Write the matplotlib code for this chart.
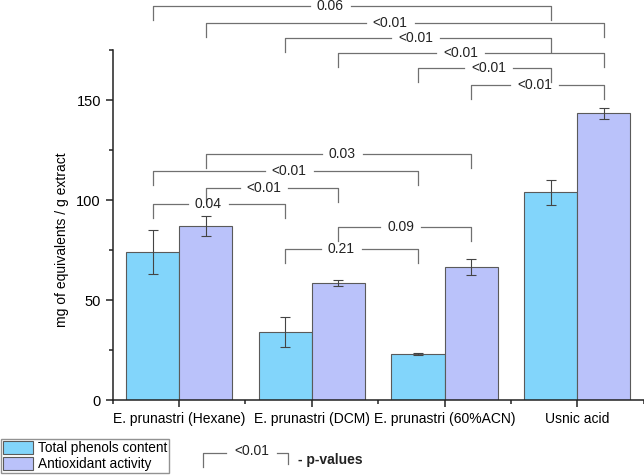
import numpy as np
import matplotlib
matplotlib.use('Agg')
import matplotlib.pyplot as plt
from matplotlib.patches import Patch
from matplotlib.lines import Line2D

plt.rcParams['font.family'] = ['Liberation Sans', 'DejaVu Sans']

categories = ['E. prunastri (Hexane)', 'E. prunastri (DCM)', 'E. prunastri (60%ACN)', 'Usnic acid']
phenols = [74.0, 33.8, 23.0, 103.8]
phenols_err = [11.0, 7.5, 0.5, 6.3]
antiox = [87.0, 58.7, 66.5, 143.3]
antiox_err = [5.0, 1.5, 4.2, 2.8]
series_names = ['Total phenols content', 'Antioxidant activity']

# p-value brackets: (group a, series a, group b, series b, height, label, label shift)
# series 0 = phenols, 1 = antioxidant
brackets = [
    (0, 0, 3, 0, 197.0, '0.06', -0.16),
    (0, 1, 3, 1, 188.7, '<0.01', -0.11),
    (1, 0, 3, 0, 180.8, '<0.01', -0.02),
    (1, 1, 3, 1, 173.7, '<0.01', -0.08),
    (2, 0, 3, 0, 165.8, '<0.01', 0.03),
    (2, 1, 3, 1, 157.5, '<0.01', -0.02),
    (0, 1, 2, 1, 123.0, '0.03', 0.03),
    (0, 0, 2, 0, 114.7, '<0.01', 0.03),
    (0, 1, 1, 1, 105.8, '<0.01', -0.06),
    (0, 0, 1, 0, 98.0, '0.04', -0.08),
    (1, 1, 2, 1, 86.3, '0.09', -0.03),
    (1, 0, 2, 0, 75.3, '0.21', -0.08),
]

c_phen = '#82d5fb'
c_anti = '#bac2fa'
edge = '#5a5a5a'
bcol = '#707070'

fig = plt.figure(figsize=(6.44, 4.76), dpi=100)
ax = fig.add_axes([112.7/644, 76/476, (644-113)/644, 350/476])

x = np.arange(len(categories))
w = 0.4
ax.bar(x - w/2, phenols, w, color=c_phen, edgecolor=edge, linewidth=0.8, zorder=2)
ax.bar(x + w/2, antiox, w, color=c_anti, edgecolor=edge, linewidth=0.8, zorder=2)
ax.errorbar(x - w/2, phenols, yerr=phenols_err, fmt='none', ecolor='#444444',
            elinewidth=0.8, capsize=3.5, capthick=0.8, zorder=3)
ax.errorbar(x + w/2, antiox, yerr=antiox_err, fmt='none', ecolor='#444444',
            elinewidth=0.8, capsize=3.5, capthick=0.8, zorder=3)

ax.set_xlim(-0.5, 3.5)
ax.set_ylim(0, 175)
ax.set_xticks(x)
ax.set_xticklabels(categories, fontsize=10)
ax.set_xticks([-0.5, 0.5, 1.5, 2.5, 3.5], minor=True)
ax.set_yticks([0, 50, 100, 150])
ax.set_yticks([25, 75, 125, 175], minor=True)
ax.tick_params(axis='y', labelsize=10.5)
ax.tick_params(which='major', length=5, width=1.1, color='#222222', pad=3.5)
ax.tick_params(which='minor', length=3, width=1.1, color='#222222')
for s in ['top', 'right']:
    ax.spines[s].set_visible(False)
for s in ['left', 'bottom']:
    ax.spines[s].set_linewidth(1.1)
    ax.spines[s].set_color('#222222')
ax.set_ylabel('mg of equivalents / g extract', fontsize=10)
ax.yaxis.set_label_coords(-0.083, 80/175)

# brackets
fig.canvas.draw()
r = fig.canvas.get_renderer()
leg = 7.0
for ga, sa, gb, sb, h, lab, sh in brackets:
    xa = ga + (sa - 0.5) * w
    xb = gb + (sb - 0.5) * w
    xm = (xa + xb) / 2 + sh
    t = ax.text(xm, h, lab, ha='center', va='center', fontsize=10, color='#222222',
                clip_on=False, zorder=5)
    bb = t.get_window_extent(renderer=r)
    inv = ax.transData.inverted()
    x0 = inv.transform((bb.x0 - 7, 0))[0]
    x1 = inv.transform((bb.x1 + 7, 0))[0]
    kw = dict(color=bcol, lw=0.9, clip_on=False, zorder=4)
    ax.plot([xa, xa, x0], [h - leg, h, h], **kw)
    ax.plot([x1, xb, xb], [h, h, h - leg], **kw)

# legend
handles = [Patch(facecolor=c_phen, edgecolor=edge, linewidth=0.8),
           Patch(facecolor=c_anti, edgecolor=edge, linewidth=0.8)]
lg = fig.legend(handles, series_names, loc='lower left', bbox_to_anchor=(1/644, 3/476),
                fontsize=9.8, frameon=True, fancybox=False, borderpad=0.15,
                handlelength=2.2, handleheight=1.15, handletextpad=0.35,
                labelspacing=0.1, borderaxespad=0)
lg.get_frame().set_edgecolor('#777777')
lg.get_frame().set_linewidth(1.0)

# p-value key
H = 476
def fy(py):
    return 1 - py / H
kw = dict(color=bcol, lw=0.9, transform=fig.transFigure)
fig.add_artist(Line2D([203/644, 203/644, 226/644], [fy(467), fy(453), fy(453)], **kw))
fig.add_artist(Line2D([277/644, 288/644, 288/644], [fy(453), fy(453), fy(464)], **kw))
fig.text(252/644, fy(451), '<0.01', ha='center', va='center', fontsize=10, color='#222222')
fig.text(298/644, fy(460), '- p-values', ha='left', va='center', fontsize=10,
         fontweight='bold', color='#222222')

fig.savefig('out.png', dpi=100)
